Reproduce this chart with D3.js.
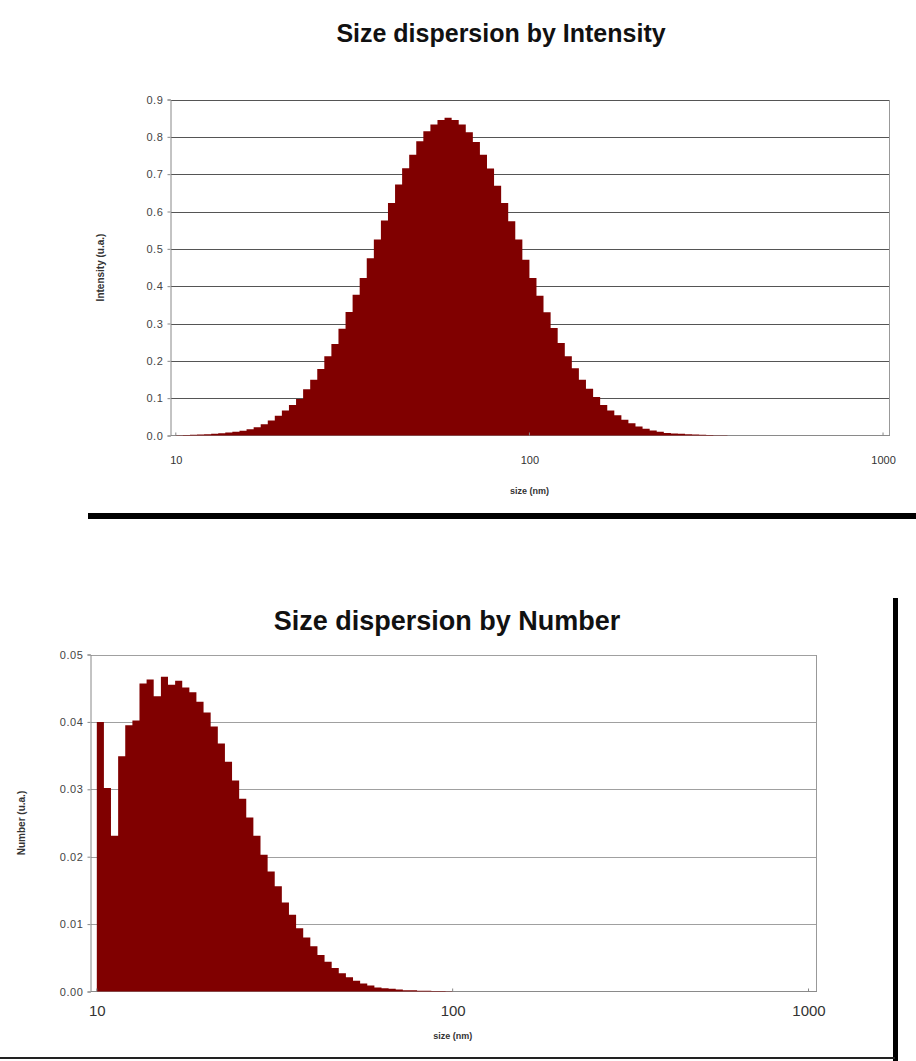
<!DOCTYPE html>
<html>
<head>
<meta charset="utf-8">
<script src="https://cdn.jsdelivr.net/npm/d3@7"></script>
<style>
  html, body { margin: 0; padding: 0; background: #fff; }
  svg { display: block; font-family: "Liberation Sans", Arial, sans-serif; }
</style>
</head>
<body>
<svg id="chart" width="916" height="1061"></svg>
<script>
// ===========================
// Size dispersion histograms (DLS style) — log size axis, stepped bars
// ===========================

// Bin edges in nm (50 bins per decade), shared by both charts
const binEdges = [
  10.00, 10.47, 10.96, 11.48, 12.02, 12.59, 13.18, 13.80, 14.45, 15.14,
  15.85, 16.60, 17.38, 18.20, 19.05, 19.95, 20.89, 21.88, 22.91, 23.99,
  25.12, 26.30, 27.54, 28.84, 30.20, 31.62, 33.11, 34.67, 36.31, 38.02,
  39.81, 41.69, 43.65, 45.71, 47.86, 50.12, 52.48, 54.95, 57.54, 60.26,
  63.10, 66.07, 69.18, 72.44, 75.86, 79.43, 83.18, 87.10, 91.20, 95.50,
  100.0, 104.7, 109.6, 114.8, 120.2, 125.9, 131.8, 138.0, 144.5, 151.4,
  158.5, 166.0, 173.8, 182.0, 190.5, 199.5, 208.9, 218.8, 229.1, 239.9,
  251.2, 263.0, 275.4, 288.4, 302.0, 316.2, 331.1, 346.7, 363.1
];

// Intensity distribution (one value per bin, starting at 10 nm)
const intensityValues = [
  0.001, 0.0015, 0.002, 0.0027, 0.0035, 0.0045, 0.006, 0.008, 0.010, 0.0125,
  0.017, 0.022, 0.030, 0.040, 0.053, 0.067, 0.082, 0.098, 0.124, 0.149,
  0.178, 0.212, 0.245, 0.286, 0.331, 0.377, 0.422, 0.475, 0.525, 0.576,
  0.623, 0.672, 0.716, 0.752, 0.788, 0.815, 0.833, 0.845, 0.851, 0.845,
  0.833, 0.812, 0.786, 0.752, 0.715, 0.669, 0.623, 0.574, 0.525, 0.471,
  0.422, 0.374, 0.330, 0.288, 0.248, 0.212, 0.180, 0.149, 0.125, 0.103,
  0.082, 0.067, 0.054, 0.042, 0.033, 0.024, 0.018, 0.0134, 0.010, 0.007,
  0.0054, 0.0045, 0.0036, 0.0027, 0.002, 0.0015, 0.001, 0.0007
];

// Number distribution (one value per bin, starting at 10 nm)
const numberValues = [
  0.0400, 0.0302, 0.0231, 0.0349, 0.0395, 0.0402, 0.0457, 0.0463, 0.0438, 0.0467,
  0.0455, 0.0461, 0.0451, 0.0444, 0.0430, 0.0414, 0.0393, 0.0368, 0.0341, 0.0313,
  0.0286, 0.0258, 0.0231, 0.0203, 0.0178, 0.0156, 0.0132, 0.0114, 0.0094, 0.0080,
  0.0067, 0.0054, 0.0044, 0.0035, 0.0027, 0.0021, 0.0016, 0.0012, 0.0009, 0.0006,
  0.0005, 0.0004, 0.0003, 0.0002, 0.0002, 0.00012, 0.0001, 0.00008, 0.00006, 0.00004
];

const xTicks = [10, 100, 1000];
const intensityTicks = [0, 0.1, 0.2, 0.3, 0.4, 0.5, 0.6, 0.7, 0.8, 0.9];
const numberTicks = [0, 0.01, 0.02, 0.03, 0.04, 0.05];

const BAR_COLOR = '#800000';

const svg = d3.select('#chart');
svg.append('rect').attr('width', 916).attr('height', 1061).attr('fill', '#fff');

function drawChart(opt) {
    const { values, yTicks, yFormat } = opt;
    const box = opt.box;   // plot area in page pixels

    // Log x: domain padded slightly past 10 and 1000 like the spreadsheet original
    const x = d3.scaleLog().domain(opt.xDomain).range([box.left, box.right]);
    const y = d3.scaleLinear().domain([0, yTicks[yTicks.length - 1]]).range([box.bottom, box.top]);

    const g = svg.append('g');

    // ── Title ─────────────────────────────────────────────────────────────
    g.append('text')
        .attr('x', opt.titleX)
        .attr('y', opt.titleY)
        .attr('text-anchor', 'middle')
        .style('font-size', opt.titleSize + 'px')
        .style('font-weight', 'bold')
        .style('fill', '#111')
        .text(opt.title);

    // ── Grid ──────────────────────────────────────────────────────────────
    g.append('g')
        .attr('transform', `translate(${box.left},0)`)
        .call(d3.axisLeft(y).tickValues(yTicks.slice(1)).tickSize(-(box.right - box.left)).tickFormat(''))
        .call(s => s.select('.domain').remove())
        .selectAll('line')
        .attr('stroke', opt.gridColor)
        .attr('shape-rendering', 'crispEdges');

    // ── Bars (stepped area, no seams between bins) ─────────────────────────
    const pts = values.map((v, i) => ({ s: binEdges[i], v }));
    pts.push({ s: binEdges[values.length], v: values[values.length - 1] });

    const area = d3.area()
        .x(d => x(d.s))
        .y0(y(0))
        .y1(d => y(d.v))
        .curve(d3.curveStepAfter);

    // Frame: right edge and base line
    g.append('line')
        .attr('x1', box.right).attr('x2', box.right)
        .attr('y1', box.top).attr('y2', box.bottom)
        .attr('stroke', '#999').attr('shape-rendering', 'crispEdges');
    g.append('line')
        .attr('x1', box.left).attr('x2', box.right)
        .attr('y1', box.bottom).attr('y2', box.bottom)
        .attr('stroke', '#8a8a8a').attr('shape-rendering', 'crispEdges');

    g.append('path')
        .datum(pts)
        .attr('d', area)
        .attr('fill', BAR_COLOR);

    // ── Y axis ────────────────────────────────────────────────────────────
    const yAxis = g.append('g')
        .attr('transform', `translate(${box.left},0)`)
        .call(d3.axisLeft(y).tickValues(yTicks).tickSize(3).tickPadding(4).tickFormat(yFormat));
    yAxis.select('.domain').attr('stroke', '#888');
    yAxis.selectAll('line').attr('stroke', '#888');
    yAxis.selectAll('text')
        .style('font-size', '11px')
        .style('letter-spacing', '0.6px')
        .style('font-family', '"Liberation Sans", Arial, sans-serif')
        .attr('fill', '#444');

    // ── X axis (ticks point into the plot) ───────────────────────────────
    const xAxis = g.append('g')
        .attr('transform', `translate(0,${box.bottom})`)
        .call(d3.axisBottom(x).tickValues(xTicks).tickSize(0).tickPadding(opt.xTickPad).tickFormat(d3.format('d')));
    xAxis.select('.domain').remove();
    xAxis.selectAll('text')
        .style('font-size', opt.xTickSize + 'px')
        .style('font-family', '"Liberation Sans", Arial, sans-serif')
        .attr('fill', '#333');
    g.selectAll('.xtick')
        .data(xTicks)
        .join('line')
        .attr('class', 'xtick')
        .attr('x1', d => x(d)).attr('x2', d => x(d))
        .attr('y1', box.bottom).attr('y2', box.bottom - 3)
        .attr('stroke', '#888');

    // ── Axis titles ──────────────────────────────────────────────────────
    g.append('text')
        .attr('x', x(100))
        .attr('y', opt.xTitleY)
        .attr('text-anchor', 'middle')
        .style('font-size', '9px')
        .style('font-weight', 'bold')
        .style('fill', '#333')
        .text('size (nm)');

    g.append('text')
        .attr('transform', `translate(${opt.yTitleX},${(box.top + box.bottom) / 2}) rotate(-90)`)
        .attr('text-anchor', 'middle')
        .style('font-size', '10px')
        .style('font-weight', 'bold')
        .style('fill', '#333')
        .text(opt.yTitle);
}

drawChart({
    title: 'Size dispersion by Intensity',
    titleX: 501, titleY: 42, titleSize: 25,
    values: intensityValues,
    yTicks: intensityTicks,
    yFormat: d3.format('.1f'),
    yTitle: 'Intensity (u.a.)',
    box: { left: 170.5, right: 889.5, top: 99.5, bottom: 435.5 },
    xDomain: [9.66, 1043],
    gridColor: '#555',
    xTickSize: 11, xTickPad: 21,
    xTitleY: 494, yTitleX: 104
});

drawChart({
    title: 'Size dispersion by Number',
    titleX: 447, titleY: 630, titleSize: 27,
    values: numberValues,
    yTicks: numberTicks,
    yFormat: d3.format('.2f'),
    yTitle: 'Number (u.a.)',
    box: { left: 90.5, right: 816.5, top: 654.5, bottom: 991.5 },
    xDomain: [9.6, 1053],
    gridColor: '#a0a0a0',
    xTickSize: 15, xTickPad: 14,
    xTitleY: 1039, yTitleX: 25
});

// Heavy separator rules from the original page
svg.append('rect').attr('x', 88).attr('y', 513).attr('width', 828).attr('height', 6).attr('fill', '#000');
svg.append('rect').attr('x', 893).attr('y', 598).attr('width', 5).attr('height', 463).attr('fill', '#000');
svg.append('rect').attr('x', 0).attr('y', 1057).attr('width', 895).attr('height', 2).attr('fill', '#222');
</script>
</body>
</html>
